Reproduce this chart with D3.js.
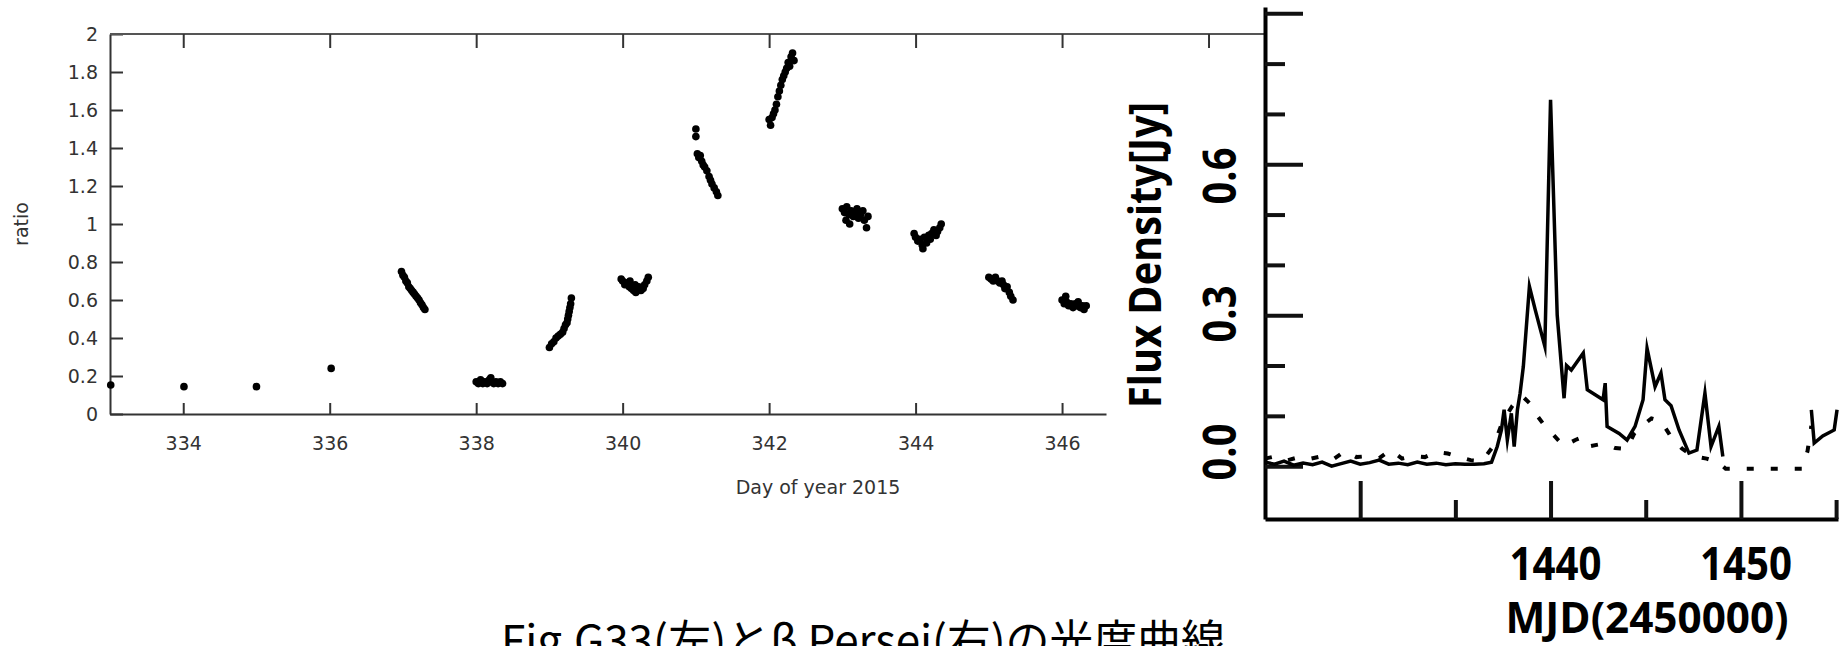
<!DOCTYPE html>
<html>
<head>
<meta charset="utf-8">
<script src="https://cdn.jsdelivr.net/npm/d3@7"></script>
<style>
  body { margin: 0; background: #fff; }
  svg { display: block; }
</style>
</head>
<body>
<svg id="chart" width="1846" height="646"></svg>
<script>
// ---- left panel: G33 ratio vs day of year 2015
var g33Day = [
  333.01, 334.01, 335.0, 336.02,
  336.98, 337.0, 337.02, 337.04, 337.06, 337.08, 337.1, 337.12, 337.14, 337.16, 337.18, 337.2, 337.22, 337.24, 337.26, 337.28, 337.3,
  338.0, 338.03, 338.06, 338.09, 338.12, 338.15, 338.18, 338.2, 338.21, 338.24, 338.27, 338.3, 338.33, 338.36,
  339.0, 339.03, 339.06, 339.09, 339.12, 339.15, 339.18, 339.2, 339.22, 339.24, 339.25, 339.26, 339.27, 339.28, 339.29, 339.3,
  339.98, 340.0, 340.03, 340.06, 340.09, 340.1, 340.12, 340.15, 340.17, 340.18, 340.2, 340.22, 340.25, 340.28, 340.3, 340.33, 340.35,
  341.0, 341.0, 341.02, 341.04, 341.06, 341.08, 341.1, 341.12, 341.15, 341.18, 341.2, 341.22, 341.25, 341.28, 341.3,
  342.0, 342.02, 342.04, 342.06, 342.08, 342.1, 342.12, 342.14, 342.16, 342.18, 342.2, 342.22, 342.24, 342.26, 342.28, 342.3, 342.32, 342.34,
  343.0, 343.03, 343.05, 343.06, 343.09, 343.1, 343.12, 343.15, 343.18, 343.2, 343.22, 343.25, 343.28, 343.3, 343.33, 343.35,
  343.98, 344.0, 344.03, 344.06, 344.09, 344.1, 344.12, 344.15, 344.18, 344.2, 344.22, 344.25, 344.28, 344.3, 344.33, 344.35,
  345.0, 345.03, 345.06, 345.09, 345.12, 345.15, 345.18, 345.2, 345.22, 345.25, 345.28, 345.3, 345.33,
  346.0, 346.03, 346.05, 346.06, 346.09, 346.12, 346.15, 346.18, 346.2, 346.22, 346.25, 346.28, 346.3, 346.33
]
var g33Ratio = [
  0.153, 0.144, 0.144, 0.24,
  0.75, 0.73, 0.72, 0.70, 0.69, 0.67, 0.66, 0.65, 0.64, 0.63, 0.62, 0.61, 0.60, 0.585, 0.575, 0.56, 0.55,
  0.17, 0.16, 0.18, 0.16, 0.17, 0.16, 0.18, 0.19, 0.17, 0.16, 0.17, 0.16, 0.17, 0.16,
  0.35, 0.37, 0.38, 0.40, 0.41, 0.42, 0.43, 0.45, 0.47, 0.48, 0.50, 0.52, 0.54, 0.56, 0.58, 0.61,
  0.71, 0.70, 0.68, 0.69, 0.67, 0.70, 0.66, 0.65, 0.68, 0.64, 0.66, 0.67, 0.65, 0.66, 0.68, 0.70, 0.72,
  1.50, 1.46, 1.37, 1.35, 1.36, 1.33, 1.31, 1.30, 1.28, 1.25, 1.23, 1.21, 1.19, 1.17, 1.15,
  1.55, 1.52, 1.56, 1.58, 1.60, 1.63, 1.67, 1.70, 1.73, 1.76, 1.78, 1.80, 1.82, 1.85, 1.83, 1.88, 1.90, 1.86,
  1.08, 1.06, 1.02, 1.09, 1.05, 1.00, 1.07, 1.04, 1.06, 1.08, 1.03, 1.05, 1.07, 1.02, 0.98, 1.04,
  0.95, 0.93, 0.91, 0.92, 0.89, 0.87, 0.93, 0.90, 0.94, 0.92, 0.95, 0.97, 0.94, 0.96, 0.98, 1.00,
  0.72, 0.71, 0.70, 0.72, 0.70, 0.69, 0.70, 0.68, 0.66, 0.67, 0.64, 0.62, 0.60,
  0.60, 0.58, 0.62, 0.59, 0.57, 0.58, 0.56, 0.58, 0.57, 0.59, 0.56, 0.57, 0.55, 0.57
]
var dayTicks = [334, 336, 338, 340, 342, 344, 346]
var dayTopTicks = [334, 336, 338, 340, 342, 344, 346, 348]
var ratioTicks = [0, 0.2, 0.4, 0.6, 0.8, 1, 1.2, 1.4, 1.6, 1.8, 2]

// ---- right panel: beta Persei flux density (solid and dotted curves)
var solidMjd = [
  1425.0, 1425.5, 1426.0, 1426.5, 1427.0, 1427.5, 1428.0, 1428.5, 1429.0, 1429.5, 1430.0, 1430.5,
  1431.0, 1431.5, 1432.0, 1432.5, 1433.0, 1433.5, 1434.0, 1434.5, 1435.0, 1435.5, 1436.0, 1436.5,
  1436.9, 1437.2, 1437.42, 1437.56, 1437.73, 1437.94, 1438.09, 1438.26, 1438.4, 1438.57, 1438.89,
  1439.2, 1439.7, 1440.0, 1440.35, 1440.71, 1440.84, 1441.09, 1441.72, 1441.93, 1442.76, 1442.87,
  1442.97, 1443.6, 1444.02, 1444.44, 1444.86, 1445.07, 1445.49, 1445.8, 1446.01, 1446.33, 1446.75,
  1447.27, 1447.69, 1448.11, 1448.43, 1448.84, 1449.05,
  1451.0,
  1453.7, 1453.85, 1454.3, 1454.9, 1455.05
]
var solidFlux = [
  0.008, 0.004, 0.010, 0.002, 0.006, 0.003, 0.008, 0.000, 0.005, 0.010, 0.004, 0.007,
  0.012, 0.004, 0.006, 0.003, 0.008, 0.004, 0.006, 0.003, 0.005, 0.004, 0.004, 0.005,
  0.008, 0.039, 0.072, 0.112, 0.052, 0.105, 0.039, 0.112, 0.145, 0.198, 0.357,
  0.31, 0.238, 0.728, 0.30, 0.135, 0.20, 0.191, 0.225, 0.152, 0.132, 0.165,
  0.079, 0.065, 0.052, 0.079, 0.132, 0.234, 0.158, 0.185, 0.132, 0.12, 0.072,
  0.026, 0.032, 0.145, 0.039, 0.079, 0.019,
  null,
  0.112, 0.046, 0.06, 0.072, 0.112
]
var dottedMjd = [
  1425.0, 1425.6, 1426.2, 1426.8, 1427.4, 1428.0, 1428.6, 1429.2, 1429.8, 1430.4, 1431.0, 1431.6,
  1432.2, 1432.8, 1433.4, 1434.0, 1434.6, 1435.2, 1435.8, 1436.4, 1437.0, 1437.5, 1438.0, 1438.5,
  1438.9, 1439.3, 1439.7, 1440.2, 1440.7, 1441.3, 1441.7, 1442.1, 1442.8, 1443.4, 1444.0, 1444.4,
  1444.8, 1445.3, 1445.8, 1446.3, 1446.9, 1447.5, 1448.2, 1448.8, 1449.2, 1450.0, 1451.0, 1452.0,
  1453.2, 1453.5, 1453.7
]
var dottedFlux = [
  0.015, 0.02, 0.012, 0.018, 0.015, 0.02, 0.014, 0.03, 0.018, 0.02, 0.016, 0.032,
  0.015, 0.02, 0.018, 0.028, 0.025, 0.018, 0.012, 0.01, 0.04, 0.09, 0.12, 0.14,
  0.125, 0.1, 0.08, 0.06, 0.04, 0.052, 0.058, 0.04, 0.045, 0.036, 0.034, 0.065,
  0.08, 0.095, 0.09, 0.06, 0.035, 0.02, 0.015, 0.008, -0.005, -0.005, -0.005, -0.005,
  -0.005, 0.03, 0.08
]
var fluxMajor = [0, 0.3, 0.6, 0.9]
var fluxMinor = [0.1, 0.2, 0.4, 0.5, 0.7, 0.8]
var fluxLabels = [0, 0.3, 0.6]
var mjdMajor = [1430, 1440, 1450]
var mjdMinor = [1435, 1445, 1455]
var mjdLabels = [1440, 1450]

var svg = d3.select('#chart')

// ---------- left panel
var xL = d3.scaleLinear().domain([333, 346.6]).range([110, 1106])
var yL = d3.scaleLinear().domain([0, 2]).range([414, 34])

// right panel scales (needed for the top border length too)
var xR = d3.scaleLinear().domain([1425, 1455.1]).range([1265, 1838])
var yR = d3.scaleLinear().domain([-0.105, 0.9125]).range([519, 7])

var left = svg.append('g')
var leftInk = '#333'

var xAxisL = left.append('g')
  .attr('transform', 'translate(0,' + yL(0) + ')')
  .call(d3.axisBottom(xL).tickValues(dayTicks).tickSize(-11).tickSizeOuter(0).tickPadding(23).tickFormat(d3.format('d')))
var yAxisL = left.append('g')
  .attr('transform', 'translate(' + xL(333) + ',0)')
  .call(d3.axisLeft(yL).tickValues(ratioTicks).tickSize(-13).tickSizeOuter(0).tickPadding(12).tickFormat(d => d))

// top border, runs over to the right panel's axis
left.append('line')
  .attr('x1', xL(333)).attr('x2', xR(1425))
  .attr('y1', yL(2)).attr('y2', yL(2))
  .attr('stroke', '#555').attr('stroke-width', 2)
var topAxisL = left.append('g')
  .attr('transform', 'translate(0,' + yL(2) + ')')
  .call(d3.axisTop(xL).tickValues(dayTopTicks).tickSize(-14).tickSizeOuter(0).tickFormat(''))
topAxisL.select('.domain').remove()

left.selectAll('.domain').attr('stroke', leftInk).attr('stroke-width', 2)
left.selectAll('.tick line').attr('stroke', leftInk).attr('stroke-width', 2)
left.selectAll('.tick text')
  .attr('fill', leftInk)
  .style('font-family', 'DejaVu Sans, Verdana, sans-serif')
  .style('font-size', '19px')

left.append('text')
  .attr('transform', 'translate(28,' + yL(1) + ') rotate(-90)')
  .attr('text-anchor', 'middle')
  .attr('fill', leftInk)
  .style('font-family', 'DejaVu Sans, Verdana, sans-serif')
  .style('font-size', '19px')
  .text('ratio')

left.append('text')
  .attr('x', 818).attr('y', 494)
  .attr('text-anchor', 'middle')
  .attr('fill', leftInk)
  .style('font-family', 'DejaVu Sans, Verdana, sans-serif')
  .style('font-size', '19px')
  .text('Day of year 2015')

left.append('g').selectAll('circle')
  .data(d3.range(g33Day.length))
  .join('circle')
  .attr('cx', i => xL(g33Day[i]))
  .attr('cy', i => yL(g33Ratio[i]))
  .attr('r', 3.8)
  .attr('fill', '#000')

// ---------- right panel
var right = svg.append('g')
var bold = 'Open Sans, Liberation Sans, Arial, sans-serif'

var yMaj = right.append('g')
  .attr('transform', 'translate(' + xR(1425) + ',0)')
  .call(d3.axisRight(yR).tickValues(fluxMajor).tickSize(38).tickSizeOuter(0).tickFormat(''))
var yMin = right.append('g')
  .attr('transform', 'translate(' + xR(1425) + ',0)')
  .call(d3.axisRight(yR).tickValues(fluxMinor).tickSize(20).tickSizeOuter(0).tickFormat(''))
yMin.select('.domain').remove()

var xMaj = right.append('g')
  .attr('transform', 'translate(0,' + yR(-0.105) + ')')
  .call(d3.axisTop(xR).tickValues(mjdMajor).tickSize(38).tickSizeOuter(0).tickFormat(''))
var xMin = right.append('g')
  .attr('transform', 'translate(0,' + yR(-0.105) + ')')
  .call(d3.axisTop(xR).tickValues(mjdMinor).tickSize(19).tickSizeOuter(0).tickFormat(''))
xMin.select('.domain').remove()

right.selectAll('.domain').attr('stroke', '#000').attr('stroke-width', 4)
right.selectAll('.tick line').attr('stroke', '#111').attr('stroke-width', 4)

// value labels sit on their own spacing in the source figure
var yLab = d3.scaleLinear().domain([0, 0.6]).range([452, 176])
right.selectAll('text.flab')
  .data(fluxLabels)
  .join('text')
  .attr('class', 'flab')
  .attr('transform', d => 'translate(1236,' + yLab(d) + ') rotate(-90)')
  .attr('text-anchor', 'middle')
  .attr('textLength', 57)
  .attr('lengthAdjust', 'spacingAndGlyphs')
  .style('font-family', bold).style('font-weight', 700).style('font-size', '46px')
  .text(d => d3.format('.1f')(d))

right.selectAll('text.mlab')
  .data(mjdLabels)
  .join('text')
  .attr('class', 'mlab')
  .attr('x', d => xR(d) + 5).attr('y', 580)
  .attr('text-anchor', 'middle')
  .attr('textLength', 92)
  .attr('lengthAdjust', 'spacingAndGlyphs')
  .style('font-family', bold).style('font-weight', 700).style('font-size', '46px')
  .text(d => d)

right.append('text')
  .attr('x', 1647).attr('y', 633)
  .attr('text-anchor', 'middle')
  .attr('textLength', 283)
  .attr('lengthAdjust', 'spacingAndGlyphs')
  .style('font-family', bold).style('font-weight', 700).style('font-size', '43px')
  .text('MJD(2450000)')

right.append('text')
  .attr('transform', 'translate(1161,255) rotate(-90)')
  .attr('text-anchor', 'middle')
  .attr('textLength', 306)
  .attr('lengthAdjust', 'spacingAndGlyphs')
  .style('font-family', bold).style('font-weight', 700).style('font-size', '44px')
  .text('Flux Density[Jy]')

var lineR = d3.line()
  .defined(d => d.f != null)
  .x(d => xR(d.m))
  .y(d => yR(d.f))

var solid = solidMjd.map((m, i) => ({m: m, f: solidFlux[i]}))
var dotted = dottedMjd.map((m, i) => ({m: m, f: dottedFlux[i]}))

right.append('path')
  .attr('d', lineR(dotted))
  .attr('fill', 'none')
  .attr('stroke', '#000')
  .attr('stroke-width', 4)
  .attr('stroke-dasharray', '7,17')

right.append('path')
  .attr('d', lineR(solid))
  .attr('fill', 'none')
  .attr('stroke', '#000')
  .attr('stroke-width', 3.5)
  .attr('stroke-linejoin', 'miter')
  .attr('stroke-miterlimit', 8)

// ---------- caption (cut by the bottom edge, as in the source)
svg.append('text')
  .attr('x', 501).attr('y', 657)
  .attr('textLength', 724)
  .style('font-family', 'Noto Sans CJK JP, sans-serif')
  .style('font-size', '44px')
  .text('Fig.G33(左)とβ Persei(右)の光度曲線')
</script>
</body>
</html>
